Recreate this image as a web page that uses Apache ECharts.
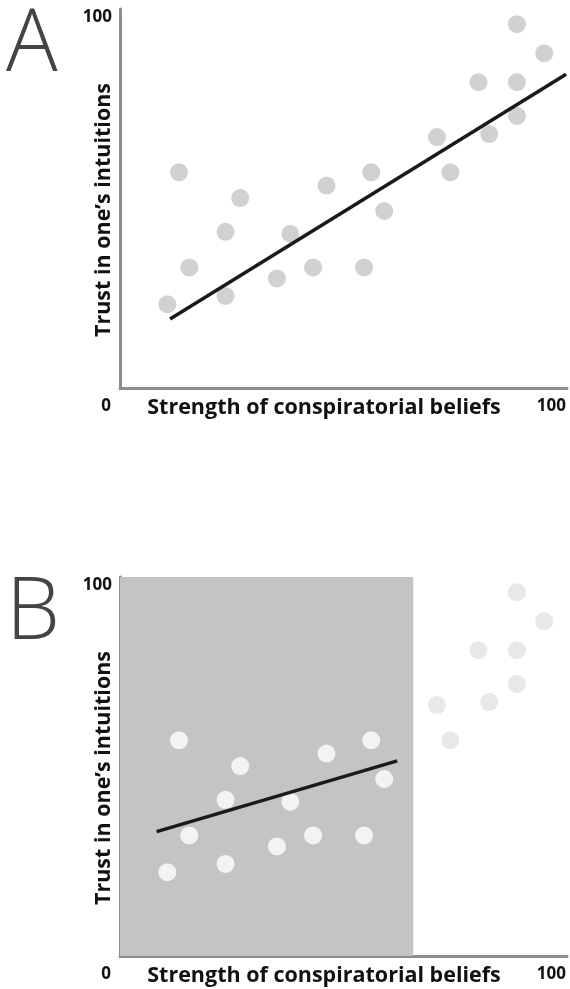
<!DOCTYPE html>
<html>
<head>
<meta charset="utf-8">
<script src="https://cdn.jsdelivr.net/npm/echarts@6/dist/echarts.min.js"></script>
<style>
html,body{margin:0;padding:0;background:#fff;}
#chart{width:570px;height:989px;}
</style>
</head>
<body>
<div id="chart"></div>
<script>
// Data, scale 0..100 on both axes
var pointX = [10.6, 13.2, 15.5, 23.6, 23.6, 26.9, 35.1, 38.1, 43.2, 46.2, 54.6, 56.2, 59.1, 70.9, 73.9, 80.2, 82.6, 88.8, 88.8, 88.8, 94.9];
var pointY = [22.1, 56.9, 31.8, 41.2, 24.3, 50.1, 28.9, 40.7, 31.8, 53.4, 31.8, 56.9, 46.7, 66.2, 56.9, 80.7, 67.0, 96.0, 80.7, 71.8, 88.3];
var fitA = [[11.2, 18.2], [99.8, 82.8]];
var fitB = [[8.2, 32.8], [62.0, 51.5]];
var cutoffB = 65.6;           // restricted range in panel B
var panelLetters = ['A', 'B'];
var xTickLabels = ['0', '100'];
var yTickLabels = ['100'];
var xTitle = 'Strength of conspiratorial beliefs';
var yTitle = 'Trust in one\u2019s intuitions';

var allPts = pointX.map(function (x, i) { return [x, pointY[i]]; });
var inPts = allPts.filter(function (p) { return p[0] < cutoffB; });
var outPts = allPts.filter(function (p) { return p[0] >= cutoffB; });

var FONT = '"Open Sans", "Noto Sans", sans-serif';
var axisCol = '#8c8c8c';

function xAxisCfg(idx) {
  return {
    type: 'value', gridIndex: idx, min: 0, max: 100, interval: 100,
    axisLine: { show: true, lineStyle: { color: axisCol, width: 3 } },
    axisTick: { show: false }, splitLine: { show: false },
    axisLabel: {
      show: true, margin: 10, align: 'right',
      formatter: function (v) {
        if (v === 0) return '{z|' + xTickLabels[0] + '}';
        if (v === 100) return '{h|' + xTickLabels[1] + '}';
        return '';
      },
      rich: {
        z: { fontFamily: FONT, fontWeight: 'bold', fontSize: 17, color: '#111', padding: [0, 9, 0, 0] },
        h: { fontFamily: FONT, fontWeight: 'bold', fontSize: 17, color: '#111', padding: [0, 1, 0, 0] }
      }
    }
  };
}
function yAxisCfg(idx) {
  return {
    type: 'value', gridIndex: idx, min: 0, max: 100, interval: 100,
    axisLine: { show: true, lineStyle: { color: axisCol, width: 3 } },
    axisTick: { show: false }, splitLine: { show: false },
    axisLabel: {
      show: true, margin: 8, verticalAlign: 'top',
      fontFamily: FONT, fontWeight: 'bold', fontSize: 17, color: '#111',
      formatter: function (v) { return v === 100 ? yTickLabels[0] : ''; }
    }
  };
}

var graphics = [];
[[9, 0], [577, 1]].forEach(function (g) {
  var top = g[0];
  graphics.push({ type: 'text', left: 6, top: top - 6,
    style: { text: panelLetters[g[1]], fontFamily: FONT, fontWeight: 300, fontSize: 86, fill: '#444' } });
  graphics.push({ type: 'text', x: 324, y: top + 399,
    style: { text: xTitle, fontFamily: FONT, fontWeight: 'bold', fontSize: 21.5, fill: '#111', align: 'center', verticalAlign: 'middle' } });
  graphics.push({ type: 'text', x: 104, y: top + 201, rotation: Math.PI / 2,
    style: { text: yTitle, fontFamily: FONT, fontWeight: 'bold', fontSize: 21.5, fill: '#111', align: 'center', verticalAlign: 'middle' } });
});

var chart = echarts.init(document.getElementById('chart'), null, { renderer: 'canvas' });
chart.setOption({
  animation: false,
  backgroundColor: '#fff',
  grid: [
    { left: 120, top: 9, width: 447, height: 379 },
    { left: 120, top: 577, width: 447, height: 379 }
  ],
  xAxis: [xAxisCfg(0), xAxisCfg(1)],
  yAxis: [yAxisCfg(0), yAxisCfg(1)],
  graphic: graphics,
  series: [
    { type: 'scatter', xAxisIndex: 0, yAxisIndex: 0, data: allPts, symbolSize: 18, z: 2,
      itemStyle: { color: '#c6c6c6' } },
    { type: 'line', xAxisIndex: 0, yAxisIndex: 0, data: fitA, symbol: 'none', z: 3,
      lineStyle: { color: '#1a1a1a', width: 3.5 } },
    { type: 'scatter', xAxisIndex: 1, yAxisIndex: 1, data: [], z: 0,
      markArea: { silent: true, itemStyle: { color: '#c4c4c4' },
        data: [[{ coord: [0, 0] }, { coord: [cutoffB, 100] }]] } },
    { type: 'scatter', xAxisIndex: 1, yAxisIndex: 1, data: inPts, symbolSize: 18, z: 2,
      itemStyle: { color: '#ffffff' } },
    { type: 'scatter', xAxisIndex: 1, yAxisIndex: 1, data: outPts, symbolSize: 18, z: 2,
      itemStyle: { color: '#e2e2e2' } },
    { type: 'line', xAxisIndex: 1, yAxisIndex: 1, data: fitB, symbol: 'none', z: 3,
      lineStyle: { color: '#1a1a1a', width: 3.5 } }
  ]
});
</script>
</body>
</html>
